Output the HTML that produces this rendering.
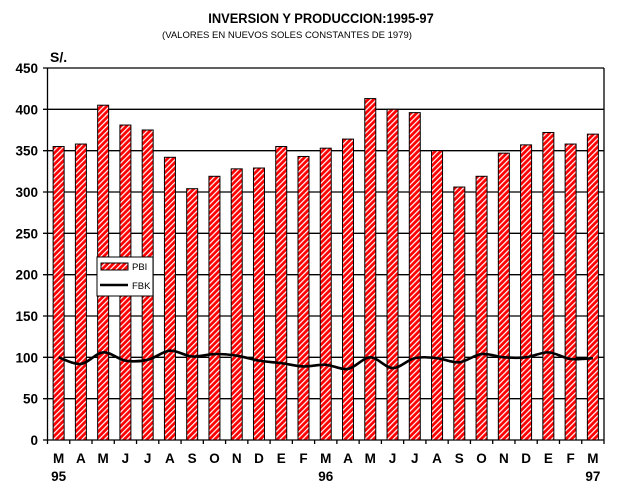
<!DOCTYPE html>
<html><head><meta charset="utf-8"><style>
html,body{margin:0;padding:0;background:#fff;}
svg{display:block;}
text{font-family:"Liberation Sans",Arial,sans-serif;}
</style></head><body>
<svg width="642" height="491" viewBox="0 0 642 491" xmlns="http://www.w3.org/2000/svg">
<defs>
<pattern id="h" patternUnits="userSpaceOnUse" width="4" height="4" patternTransform="rotate(45)">
<rect width="4" height="4" fill="#ff0000"/>
<rect x="0" y="0" width="1.2" height="4" fill="#fff"/>
</pattern>
</defs>
<text x="321" y="23" text-anchor="middle" font-size="14" font-weight="bold" transform="translate(321,0) scale(0.92,1) translate(-321,0)">INVERSION Y PRODUCCION:1995-97</text>
<text x="287" y="38" text-anchor="middle" font-size="9.5">(VALORES EN NUEVOS SOLES CONSTANTES DE 1979)</text>
<text x="50" y="62" font-size="14" font-weight="bold">S/.</text>
<g id="grid" stroke="#000" stroke-width="1.3"></g>
<g id="ylab" font-size="13.5" font-weight="bold" text-anchor="end"></g>
<g id="bars"></g>
<g id="xlab" font-size="13.5" font-weight="bold" text-anchor="middle"></g>
<path id="line" fill="none" stroke="#000" stroke-width="2.6"/>
<rect x="97" y="257" width="56" height="39" fill="#fff" stroke="#000" stroke-width="1"/>
<rect x="101" y="263" width="27" height="7" fill="url(#h)" stroke="#000" stroke-width="1"/>
<text x="132" y="270" font-size="9.5">PBI</text>
<line x1="100" y1="285" x2="128" y2="285" stroke="#000" stroke-width="2.5"/>
<text x="132" y="289" font-size="9.5">FBK</text>
</svg>
<script>
var NS="http://www.w3.org/2000/svg";
function el(t,a,p,txt){var e=document.createElementNS(NS,t);for(var k in a)e.setAttribute(k,a[k]);if(txt!=null)e.textContent=txt;document.getElementById(p).appendChild(e);return e;}
var L=47.5,R=604,T=68,B=440,step=(R-L)/25;
function Y(v){return B-(v/450)*(B-T);}
for(var v=0;v<=450;v+=50){var y=Y(v);
 el('line',{x1:43,x2:R,y1:y,y2:y},'grid');
 el('text',{x:38,y:y+5},'ylab',String(v));}
el('line',{x1:L,x2:L,y1:T,y2:B},'grid');
el('line',{x1:R,x2:R,y1:T,y2:B},'grid');
for(var i=0;i<=25;i++){var x=L+i*step;el('line',{x1:x,x2:x,y1:B,y2:B+4},'grid');}
var pbi=[355,358,405,381,375,342,304,319,328,329,355,343,353,364,413,400,396,350,306,319,347,357,372,358,370];
var fbk=[100,92,106,96,97,108,101,104,102,96,93,89,91,86,100,87,99,99,94,104,100,100,106,98,99];
var lab="MAMJJASONDEFMAMJJASONDEFM";
var pts=[];
for(var i=0;i<25;i++){var c=L+(i+0.5)*step;
 el('rect',{x:c-5.5,y:Y(pbi[i]),width:11,height:B-Y(pbi[i]),fill:'url(#h)',stroke:'#000','stroke-width':1},'bars');
 el('text',{x:c,y:463},'xlab',lab[i]);
 pts.push([c,Y(fbk[i])]);}
el('text',{x:L+0.5*step,y:481},'xlab','95');
el('text',{x:L+12.5*step,y:481},'xlab','96');
el('text',{x:L+24.5*step,y:481},'xlab','97');
var d="M"+pts[0][0]+","+pts[0][1];
for(var i=0;i<pts.length-1;i++){var p0=pts[Math.max(i-1,0)],p1=pts[i],p2=pts[i+1],p3=pts[Math.min(i+2,pts.length-1)];
 d+=" C"+(p1[0]+(p2[0]-p0[0])/6)+","+(p1[1]+(p2[1]-p0[1])/6)+" "+(p2[0]-(p3[0]-p1[0])/6)+","+(p2[1]-(p3[1]-p1[1])/6)+" "+p2[0]+","+p2[1];}
document.getElementById('line').setAttribute('d',d);
</script>
</body></html>
